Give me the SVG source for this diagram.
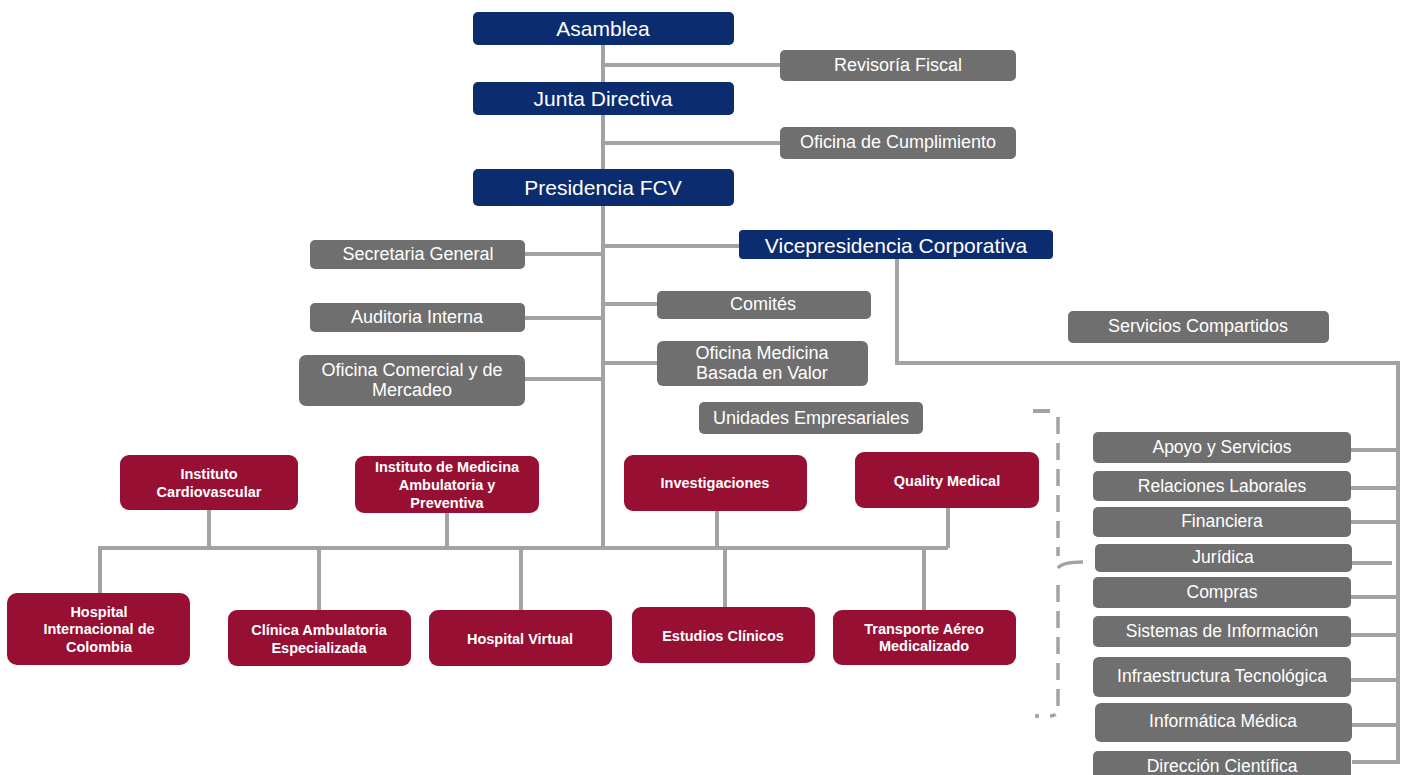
<svg xmlns="http://www.w3.org/2000/svg" width="1404" height="775" viewBox="0 0 1404 775">
<style>
.nv{fill:#0c2c70}
.gr{fill:#6f6f6f}
.mr{fill:#980f34}
text{fill:#fff;font-family:"Liberation Sans",Arial,sans-serif;text-anchor:middle;dominant-baseline:central}
.tn{font-size:21px}
.tg{font-size:18px}
.tr{font-size:17.5px}
.tm{font-size:14.5px;font-weight:bold}
.ln{stroke:#a3a3a3;stroke-width:4;fill:none}
.br{stroke:#a3a3a3;stroke-width:3.5;fill:none;stroke-dasharray:17 9}
</style>
<rect width="1404" height="775" fill="#fff"/>
<g id="connectors">
<path class="ln" d="M603 45V548"/>
<path class="ln" d="M603 65H780M603 143H780M603 246H739M525 254H603M525 318H603M603 304H657M525 379H603M603 363H657"/>
<path class="ln" d="M897 259V363H1398V762H1352"/>
<path class="ln" d="M1351 450H1398M1351 488H1398M1351 522H1398M1352 563H1392M1351 597H1398M1351 635H1398M1351 680H1398M1352 725H1398"/>
<path class="ln" d="M98 548H948M209 510V548M447 513V548M717 511V548M948 508V548"/>
<path class="ln" d="M100 548V593M319 548V610M521 548V610M725 548V607M924 548V610"/>
<path class="ln" d="M1033 411H1050"/>
<path class="br" d="M1058 417V556"/>
<path class="ln" style="stroke-width:3.5" d="M1058 568Q1062 562 1083 562"/>
<path class="br" d="M1058 585V708Q1058 716 1050 716"/>
<circle cx="1037" cy="716" r="2.2" fill="#a3a3a3"/>
</g>
<g id="asamblea"><rect class="nv" x="473" y="12" width="261" height="33" rx="5"/><text class="tn" x="603" y="28">Asamblea</text></g>
<g id="junta-directiva"><rect class="nv" x="473" y="82" width="261" height="33" rx="5"/><text class="tn" x="603" y="98">Junta Directiva</text></g>
<g id="presidencia"><rect class="nv" x="473" y="169" width="261" height="37" rx="5"/><text class="tn" x="603" y="187">Presidencia FCV</text></g>
<g id="vicepresidencia"><rect class="nv" x="739" y="230" width="314" height="29" rx="4"/><text class="tn" x="896" y="245">Vicepresidencia Corporativa</text></g>
<g id="revisoria"><rect class="gr" x="780" y="50" width="236" height="31" rx="5"/><text class="tg" x="898" y="65">Revisoría Fiscal</text></g>
<g id="cumplimiento"><rect class="gr" x="780" y="127" width="236" height="32" rx="5"/><text class="tg" x="898" y="142">Oficina de Cumplimiento</text></g>
<g id="secretaria"><rect class="gr" x="310" y="240" width="215" height="29" rx="5"/><text class="tg" x="418" y="254">Secretaria General</text></g>
<g id="auditoria"><rect class="gr" x="310" y="303" width="215" height="29" rx="5"/><text class="tg" x="417" y="317">Auditoria Interna</text></g>
<g id="comercial"><rect class="gr" x="299" y="355" width="226" height="51" rx="7"/><text class="tg" x="412" y="370">Oficina Comercial y de</text><text class="tg" x="412" y="390">Mercadeo</text></g>
<g id="comites"><rect class="gr" x="657" y="291" width="214" height="28" rx="5"/><text class="tg" x="763" y="304">Comités</text></g>
<g id="medicina-valor"><rect class="gr" x="657" y="341" width="211" height="45" rx="6"/><text class="tg" x="762" y="353">Oficina Medicina</text><text class="tg" x="762" y="373">Basada en Valor</text></g>
<g id="unidades"><rect class="gr" x="699" y="402" width="224" height="32" rx="5"/><text class="tg" x="811" y="418">Unidades Empresariales</text></g>
<g id="servicios-compartidos"><rect class="gr" x="1068" y="311" width="261" height="32" rx="5"/><text class="tg" x="1198" y="326">Servicios Compartidos</text></g>
<g id="inst-cardio"><rect class="mr" x="120" y="455" width="178" height="55" rx="9"/><text class="tm" x="209" y="474">Instituto</text><text class="tm" x="209" y="492">Cardiovascular</text></g>
<g id="inst-medicina"><rect class="mr" x="355" y="456" width="184" height="57" rx="9"/><text class="tm" x="447" y="467">Instituto de Medicina</text><text class="tm" x="447" y="485">Ambulatoria y</text><text class="tm" x="447" y="503">Preventiva</text></g>
<g id="investigaciones"><rect class="mr" x="624" y="455" width="183" height="56" rx="9"/><text class="tm" x="715" y="483">Investigaciones</text></g>
<g id="quality"><rect class="mr" x="855" y="452" width="184" height="56" rx="9"/><text class="tm" x="947" y="481">Quality Medical</text></g>
<g id="hospital-internacional"><rect class="mr" x="7" y="593" width="183" height="72" rx="10"/><text class="tm" x="99" y="612">Hospital</text><text class="tm" x="99" y="629">Internacional de</text><text class="tm" x="99" y="647">Colombia</text></g>
<g id="clinica"><rect class="mr" x="228" y="610" width="183" height="56" rx="9"/><text class="tm" x="319" y="630">Clínica Ambulatoria</text><text class="tm" x="319" y="648">Especializada</text></g>
<g id="hospital-virtual"><rect class="mr" x="429" y="610" width="183" height="56" rx="9"/><text class="tm" x="520" y="639">Hospital Virtual</text></g>
<g id="estudios"><rect class="mr" x="632" y="607" width="183" height="56" rx="9"/><text class="tm" x="723" y="636">Estudios Clínicos</text></g>
<g id="transporte"><rect class="mr" x="833" y="610" width="183" height="55" rx="9"/><text class="tm" x="924" y="629">Transporte Aéreo</text><text class="tm" x="924" y="646">Medicalizado</text></g>
<g id="apoyo"><rect class="gr" x="1093" y="432" width="258" height="31" rx="5"/><text class="tr" x="1222" y="447">Apoyo y Servicios</text></g>
<g id="relaciones"><rect class="gr" x="1093" y="471" width="258" height="30" rx="5"/><text class="tr" x="1222" y="486">Relaciones Laborales</text></g>
<g id="financiera"><rect class="gr" x="1093" y="507" width="258" height="30" rx="5"/><text class="tr" x="1222" y="521">Financiera</text></g>
<g id="juridica"><rect class="gr" x="1095" y="544" width="257" height="28" rx="5"/><text class="tr" x="1223" y="557">Jurídica</text></g>
<g id="compras"><rect class="gr" x="1093" y="577" width="258" height="31" rx="5"/><text class="tr" x="1222" y="592">Compras</text></g>
<g id="sistemas"><rect class="gr" x="1093" y="616" width="258" height="31" rx="5"/><text class="tr" x="1222" y="631">Sistemas de Información</text></g>
<g id="infraestructura"><rect class="gr" x="1093" y="657" width="258" height="40" rx="6"/><text class="tr" x="1222" y="676">Infraestructura Tecnológica</text></g>
<g id="informatica"><rect class="gr" x="1095" y="703" width="257" height="39" rx="6"/><text class="tr" x="1223" y="721">Informática Médica</text></g>
<g id="direccion"><rect class="gr" x="1093" y="751" width="258" height="32" rx="5"/><text class="tr" x="1222" y="766">Dirección Científica</text></g>
</svg>
